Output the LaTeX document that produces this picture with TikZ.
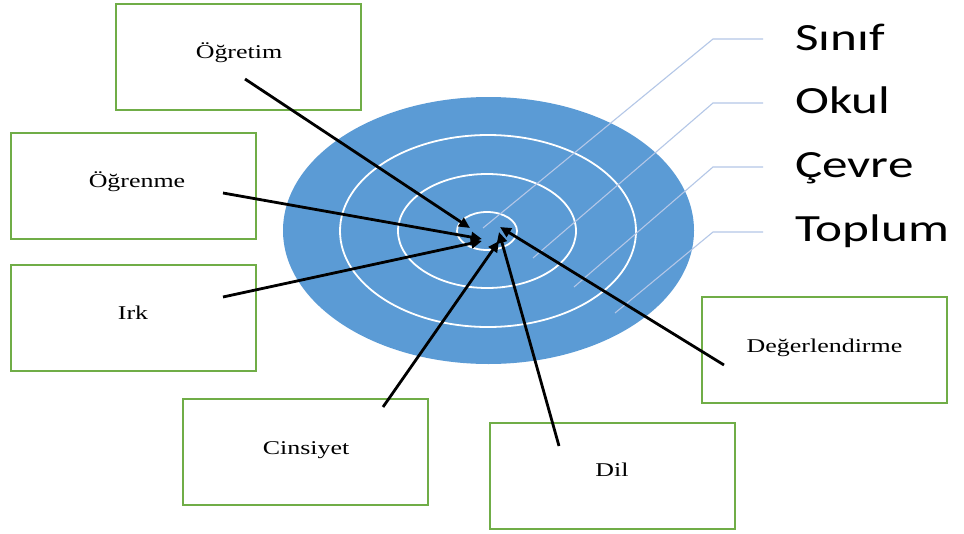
\documentclass[tikz,border=0pt]{standalone}
\usepackage{fontspec}
\setmainfont{Liberation Serif}
\newfontfamily\boxfont{Liberation Serif}[FakeStretch=1.33]
\newfontfamily\labfont{Carlito}[FakeStretch=1.33]
\usetikzlibrary{arrows.meta,shapes.geometric}
\definecolor{ringblue}{HTML}{5B9BD5}
\definecolor{boxgreen}{HTML}{70AD47}
\definecolor{leadblue}{HTML}{B4C7E7}
\begin{document}
\begin{tikzpicture}[x=1pt,y=-1pt,
  gbox/.style={draw=boxgreen, line width=2pt, rectangle, minimum width=245pt, minimum height=106pt, inner sep=0pt},
  btext/.style={font=\fontsize{19.5}{22}\boxfont, anchor=base, inner sep=0pt},
  lab/.style={font=\fontsize{38.5}{42}\labfont, anchor=base west, inner sep=0pt},
  ring/.style={ellipse, draw=white, line width=1.8pt, inner sep=0pt},
  leader/.style={draw=leadblue, line width=1.1pt},
  arr/.style={draw=black, line width=2.8pt, -{Triangle[length=11pt,width=10pt]}}]
\useasboundingbox (0,0) rectangle (964,533);
\fill[white] (0,0) rectangle (964,533);
% target
\node[ellipse, fill=ringblue, inner sep=0pt, minimum width=411pt, minimum height=267pt] (outer) at (488.5,230.5) {};
\node[ring, minimum width=296pt, minimum height=192pt] (r2) at (488,231) {};
\node[ring, minimum width=178pt, minimum height=114pt] (r3) at (487,231) {};
\node[ring, minimum width=60pt, minimum height=38pt] (r4) at (487,231) {};
% leader lines
\coordinate (l1a) at (763,39);  \coordinate (l1b) at (713,39);  \coordinate (l1c) at (483,228);
\coordinate (l2a) at (763,103); \coordinate (l2b) at (713,103); \coordinate (l2c) at (533,258);
\coordinate (l3a) at (763,167); \coordinate (l3b) at (713,167); \coordinate (l3c) at (574,287);
\coordinate (l4a) at (763,232); \coordinate (l4b) at (713,232); \coordinate (l4c) at (615,313);
\draw[leader] (l1a) -- (l1b) -- (l1c);
\draw[leader] (l2a) -- (l2b) -- (l2c);
\draw[leader] (l3a) -- (l3b) -- (l3c);
\draw[leader] (l4a) -- (l4b) -- (l4c);
\node[lab] (sinif) at (795,50) {Sınıf};
\node[lab] (okul) at (795,113) {Okul};
\node[lab] (cevre) at (795,177) {Çevre};
\node[lab] (toplum) at (795,241) {Toplum};
% boxes
\node[gbox] (bogretim) at (238,57) {};
\node[gbox] (bogrenme) at (133.5,185.5) {};
\node[gbox] (birk) at (133.5,318) {};
\node[gbox] (bcins) at (305.5,451.5) {};
\node[gbox] (bdil) at (612,475.5) {};
\node[gbox] (bdeg) at (824.5,350) {};
\node[btext] (togretim) at (239,58) {Öğretim};
\node[btext] (togrenme) at (137,187) {Öğrenme};
\node[btext] (tirk) at (133,319) {Irk};
\node[btext] (tcins) at (306,454) {Cinsiyet};
\node[btext] (tdil) at (612,476) {Dil};
\node[btext] (tdeg) at (824.5,352) {Değerlendirme};
% arrows
\coordinate (s1) at (245,79);  \coordinate (e1) at (470,228);
\coordinate (s2) at (223,193); \coordinate (e2) at (482,239);
\coordinate (s3) at (223,297); \coordinate (e3) at (482,241);
\coordinate (s4) at (383,407); \coordinate (e4) at (499,241);
\coordinate (s5) at (559,446); \coordinate (e5) at (499,232);
\coordinate (s6) at (724,365); \coordinate (e6) at (500,227);
\draw[arr] (s1) -- (e1);
\draw[arr] (s2) -- (e2);
\draw[arr] (s3) -- (e3);
\draw[arr] (s4) -- (e4);
\draw[arr] (s5) -- (e5);
\draw[arr] (s6) -- (e6);
\end{tikzpicture}
\end{document}
